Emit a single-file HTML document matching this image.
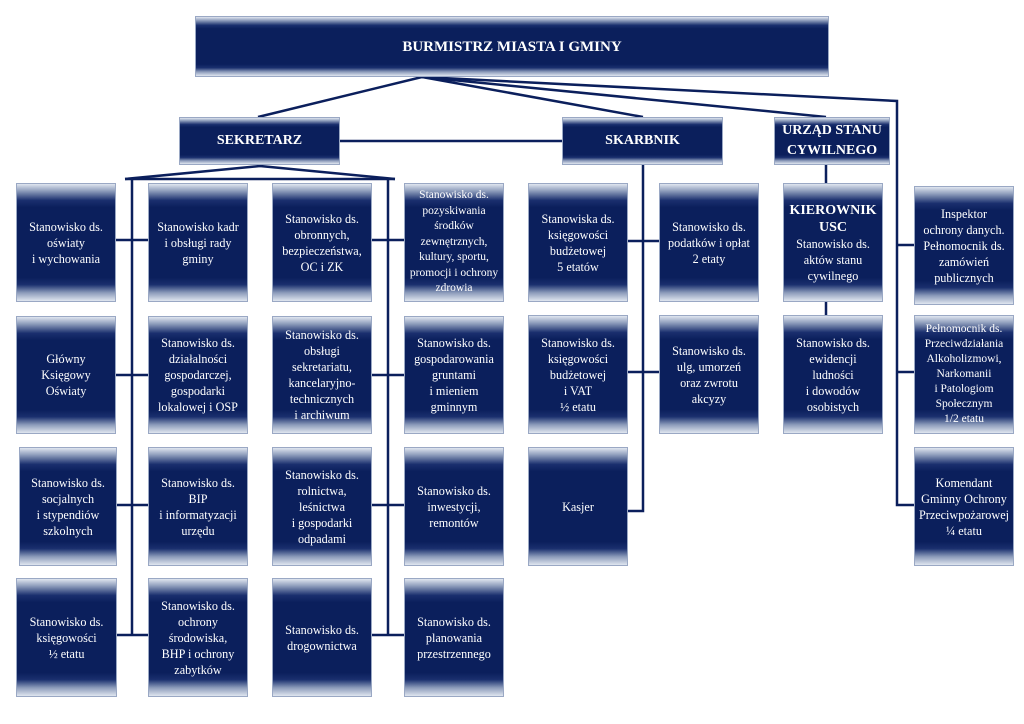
<!DOCTYPE html>
<html><head><meta charset="utf-8"><style>
body{margin:0;width:1024px;height:724px;background:#fff;position:relative;overflow:hidden;font-family:"Liberation Serif",serif}
.b{position:absolute;box-sizing:border-box;border:1px solid #9aa8c4;background:linear-gradient(to bottom,#dfe5ef 0%,#8d9cbb 6%,#1a2f6e 14%,#0b1f5c 20%,#0b1f5c 80%,#1a2f6e 86%,#8d9cbb 93%,#dfe5ef 100%);color:#fff;display:flex;align-items:center;justify-content:center;text-align:center;font-size:12.2px;line-height:16px}
.h{font-weight:bold;font-size:14px;line-height:20px}
svg{position:absolute;left:0;top:0}
</style></head><body>
<svg width="1024" height="724"><g stroke="#0b1f5c" stroke-width="2.5" fill="none">
<line x1="422" y1="77" x2="258" y2="117"/><line x1="422" y1="77" x2="643" y2="117"/><line x1="422" y1="77" x2="826" y2="117"/>
<polyline points="422,77 897,101 897,505 914,505"/>
<line x1="340" y1="141" x2="562" y2="141"/>
<polyline points="125,179 260,166 395,179"/><line x1="125" y1="179" x2="395" y2="179"/>
<line x1="132" y1="179" x2="132" y2="635"/><line x1="388" y1="179" x2="388" y2="635"/>
<line x1="116" y1="240" x2="148" y2="240"/><line x1="116" y1="375" x2="148" y2="375"/><line x1="116" y1="505" x2="148" y2="505"/><line x1="116" y1="635" x2="148" y2="635"/>
<line x1="372" y1="240" x2="404" y2="240"/><line x1="372" y1="375" x2="404" y2="375"/><line x1="372" y1="505" x2="404" y2="505"/><line x1="372" y1="635" x2="404" y2="635"/>
<polyline points="643,165 643,511 628,511"/>
<line x1="628" y1="241" x2="659" y2="241"/><line x1="628" y1="372" x2="659" y2="372"/>
<line x1="826" y1="165" x2="826" y2="316"/>
<line x1="897" y1="245" x2="914" y2="245"/><line x1="897" y1="372" x2="914" y2="372"/>
</g></svg>
<div class="b h" style="left:195px;top:16px;width:634px;height:61px;font-size:15px">BURMISTRZ MIASTA I GMINY</div>
<div class="b h" style="left:179px;top:117px;width:161px;height:48px">SEKRETARZ</div>
<div class="b h" style="left:562px;top:117px;width:161px;height:48px">SKARBNIK</div>
<div class="b h" style="left:774px;top:117px;width:116px;height:48px">URZĄD STANU<br>CYWILNEGO</div>

<div class="b" style="left:16px;top:183px;width:100px;height:119px">Stanowisko ds.<br>oświaty<br>i wychowania</div>
<div class="b" style="left:148px;top:183px;width:100px;height:119px">Stanowisko kadr<br>i obsługi rady<br>gminy</div>
<div class="b" style="left:272px;top:183px;width:100px;height:119px">Stanowisko ds.<br>obronnych,<br>bezpieczeństwa,<br>OC i ZK</div>
<div class="b" style="left:404px;top:183px;width:100px;height:119px;font-size:11.5px;line-height:15.5px">Stanowisko ds.<br>pozyskiwania<br>środków<br>zewnętrznych,<br>kultury, sportu,<br>promocji i ochrony<br>zdrowia</div>

<div class="b" style="left:16px;top:316px;width:100px;height:118px">Główny<br>Księgowy<br>Oświaty</div>
<div class="b" style="left:148px;top:316px;width:100px;height:118px">Stanowisko ds.<br>działalności<br>gospodarczej,<br>gospodarki<br>lokalowej i OSP</div>
<div class="b" style="left:272px;top:316px;width:100px;height:118px">Stanowisko ds.<br>obsługi<br>sekretariatu,<br>kancelaryjno-<br>technicznych<br>i archiwum</div>
<div class="b" style="left:404px;top:316px;width:100px;height:118px">Stanowisko ds.<br>gospodarowania<br>gruntami<br>i mieniem<br>gminnym</div>

<div class="b" style="left:19px;top:447px;width:98px;height:119px">Stanowisko ds.<br>socjalnych<br>i stypendiów<br>szkolnych</div>
<div class="b" style="left:148px;top:447px;width:100px;height:119px">Stanowisko ds.<br>BIP<br>i informatyzacji<br>urzędu</div>
<div class="b" style="left:272px;top:447px;width:100px;height:119px">Stanowisko ds.<br>rolnictwa,<br>leśnictwa<br>i gospodarki<br>odpadami</div>
<div class="b" style="left:404px;top:447px;width:100px;height:119px">Stanowisko ds.<br>inwestycji,<br>remontów</div>

<div class="b" style="left:16px;top:578px;width:101px;height:119px">Stanowisko ds.<br>księgowości<br>½ etatu</div>
<div class="b" style="left:148px;top:578px;width:100px;height:119px">Stanowisko ds.<br>ochrony<br>środowiska,<br>BHP i ochrony<br>zabytków</div>
<div class="b" style="left:272px;top:578px;width:100px;height:119px">Stanowisko ds.<br>drogownictwa</div>
<div class="b" style="left:404px;top:578px;width:100px;height:119px">Stanowisko ds.<br>planowania<br>przestrzennego</div>

<div class="b" style="left:528px;top:183px;width:100px;height:119px">Stanowiska ds.<br>księgowości<br>budżetowej<br>5 etatów</div>
<div class="b" style="left:659px;top:183px;width:100px;height:119px">Stanowisko ds.<br>podatków i opłat<br>2 etaty</div>
<div class="b" style="left:528px;top:315px;width:100px;height:119px">Stanowisko ds.<br>księgowości<br>budżetowej<br>i VAT<br>½ etatu</div>
<div class="b" style="left:659px;top:315px;width:100px;height:119px">Stanowisko ds.<br>ulg, umorzeń<br>oraz zwrotu<br>akcyzy</div>
<div class="b" style="left:528px;top:447px;width:100px;height:119px">Kasjer</div>

<div class="b" style="left:783px;top:183px;width:100px;height:119px"><div><b style="font-size:14px;line-height:17px">KIEROWNIK<br>USC</b><br>Stanowisko ds.<br>aktów stanu<br>cywilnego</div></div>
<div class="b" style="left:783px;top:315px;width:100px;height:119px">Stanowisko ds.<br>ewidencji<br>ludności<br>i dowodów<br>osobistych</div>

<div class="b" style="left:914px;top:186px;width:100px;height:119px">Inspektor<br>ochrony danych.<br>Pełnomocnik ds.<br>zamówień<br>publicznych</div>
<div class="b" style="left:914px;top:315px;width:100px;height:119px;font-size:11.5px;line-height:15px">Pełnomocnik ds.<br>Przeciwdziałania<br>Alkoholizmowi,<br>Narkomanii<br>i Patologiom<br>Społecznym<br>1/2 etatu</div>
<div class="b" style="left:914px;top:447px;width:100px;height:119px">Komendant<br>Gminny Ochrony<br>Przeciwpożarowej<br>¼ etatu</div>
</body></html>
